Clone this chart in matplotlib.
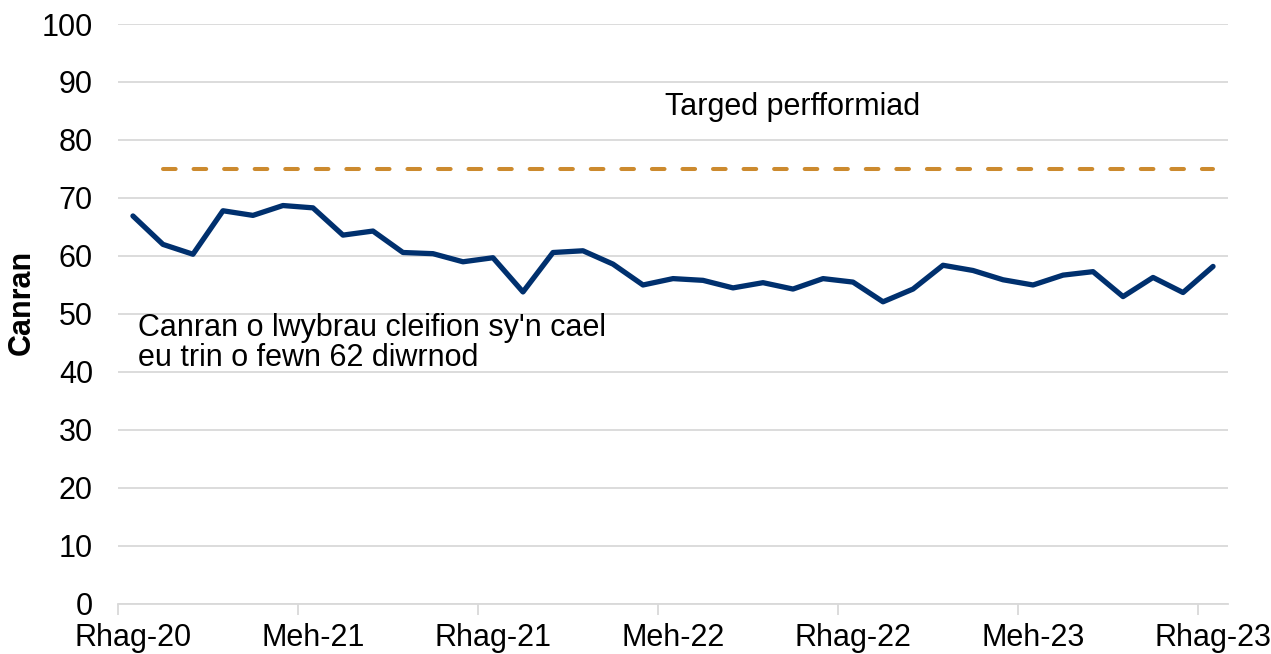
import matplotlib
matplotlib.use("Agg")
import matplotlib.pyplot as plt
import numpy as np

plt.rcParams['font.family'] = ['Liberation Sans', 'DejaVu Sans']
plt.rcParams['lines.scale_dashes'] = False

months = ["Rhag-20", "Ion-21", "Chwef-21", "Maw-21", "Ebr-21", "Mai-21", "Meh-21",
          "Gorff-21", "Awst-21", "Medi-21", "Hyd-21", "Tach-21", "Rhag-21",
          "Ion-22", "Chwef-22", "Maw-22", "Ebr-22", "Mai-22", "Meh-22",
          "Gorff-22", "Awst-22", "Medi-22", "Hyd-22", "Tach-22", "Rhag-22",
          "Ion-23", "Chwef-23", "Maw-23", "Ebr-23", "Mai-23", "Meh-23",
          "Gorff-23", "Awst-23", "Medi-23", "Hyd-23", "Tach-23", "Rhag-23"]
percent = [66.9, 62.0, 60.3, 67.8, 67.0, 68.7, 68.3, 63.6, 64.3, 60.6, 60.4, 59.0,
           59.7, 53.8, 60.6, 60.9, 58.6, 55.0, 56.1, 55.8, 54.5, 55.4, 54.3, 56.1,
           55.5, 52.1, 54.3, 58.4, 57.5, 55.9, 55.0, 56.7, 57.3, 53.0, 56.3, 53.7, 58.2]
target = [None] + [75] * 36
tick_labels = ["Rhag-20", "Meh-21", "Rhag-21", "Meh-22", "Rhag-22", "Meh-23", "Rhag-23"]

x = np.arange(len(months))
fig = plt.figure(figsize=(12.71, 6.54), dpi=100)
ax = fig.add_axes([0.0928, 0.0765, 0.9662 - 0.0928, 0.9633 - 0.0765])

ax.plot(x, percent, color='#00306E', lw=3.8, solid_joinstyle='round', solid_capstyle='round', zorder=3)
tx = [xi for xi, t in zip(x, target) if t is not None]
ty = [t for t in target if t is not None]
ax.plot(tx, ty, color='#CC8A2E', lw=2.9, dashes=(9.1, 12.9), dash_capstyle='round', zorder=3)

ax.set_xlim(-0.5, len(months) - 0.5)
ax.set_ylim(0, 100)
ax.set_yticks(np.arange(0, 101, 10))
ax.yaxis.grid(True, color='#D9D9D9', lw=1.3)
ax.set_axisbelow(True)
for s in ['top', 'right', 'left']:
    ax.spines[s].set_visible(False)
ax.spines['bottom'].set_color('#D9D9D9')
ax.spines['bottom'].set_linewidth(1.3)

ax.set_xticks(x[::6])
ax.set_xticklabels(tick_labels)
ax.set_xticks(x[::6] - 0.5, minor=True)
ax.tick_params(axis='x', which='major', length=0, pad=14, labelsize=22)
ax.tick_params(axis='x', which='minor', length=8, width=1.3, color='#D9D9D9')
ax.tick_params(axis='y', length=0, pad=18, labelsize=22)

ax.set_ylabel('Canran', fontsize=22, fontweight='bold')
ax.yaxis.set_label_coords(-0.073, 0.52)

ax.text(17.73, 85.7, 'Targed perfformiad', fontsize=22, va='center', ha='left')
ax.text(0.17, 45.0, "Canran o lwybrau cleifion sy'n cael\neu trin o fewn 62 diwrnod",
        fontsize=22, va='center', ha='left', linespacing=1.02)

fig.savefig('out.png', dpi=100)
